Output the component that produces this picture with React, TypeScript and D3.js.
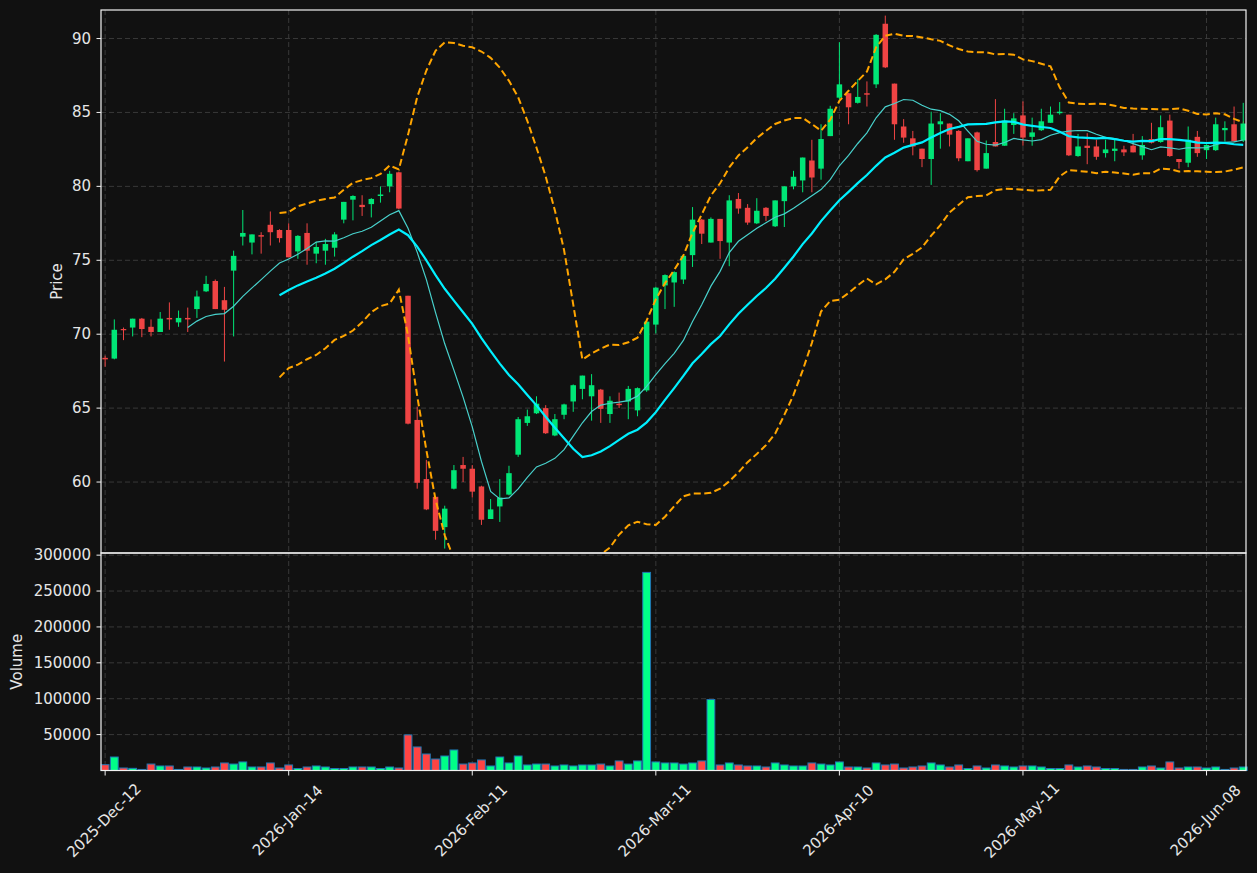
import { useEffect, useRef } from "react";
import * as d3 from "d3";

// daily OHLC
const opens = [
  68.4, 68.35, 70.35, 70.45, 71.05, 70.5, 70.15, 71.1, 70.8, 71.1,
  71.7, 72.9, 73.6, 72.3, 74.3, 76.6, 76.2, 76.7, 77.4, 77.05,
  77.05, 75.6, 76.85, 75.45, 75.65, 75.85, 77.75, 79.1, 78.75, 78.8,
  79.35, 80.0, 80.95, 72.6, 64.2, 60.2, 59.0, 56.95, 59.55, 61.15,
  60.9, 59.7, 57.5, 58.35, 59.15, 61.85, 64.0, 64.65, 65.0, 63.15,
  64.55, 65.45, 66.3, 65.8, 66.25, 64.6, 65.3, 65.45, 64.85, 66.2,
  70.65, 73.3, 73.5, 73.7, 75.35, 77.75, 76.2, 77.8, 76.2, 79.15,
  78.55, 77.5, 78.55, 77.3, 79.0, 80.0, 80.4, 81.75, 81.2, 83.4,
  86.0, 86.3, 85.65, 86.3, 86.9, 91.0, 86.95, 84.05, 83.25, 82.55,
  81.85, 84.2, 84.25, 83.75, 81.7, 83.65, 81.2, 83.0, 82.75, 84.15,
  84.8, 83.35, 83.8, 84.3, 84.95, 84.85, 82.05, 82.75, 82.7, 82.25,
  82.4, 82.5, 82.75, 82.1, 83.2, 83.0, 84.45, 81.85, 81.6, 83.35,
  82.45, 82.45, 83.8, 84.2, 83.1,
];
const highs = [
  68.55, 71.0, 70.45, 71.05, 71.1, 71.0, 71.5, 72.15, 71.6, 71.8,
  72.95, 73.95, 73.7, 73.2, 75.65, 78.4, 76.75, 76.9, 78.3, 77.1,
  77.5, 76.7, 77.5, 76.25, 76.45, 76.9, 78.95, 79.4, 79.4, 79.2,
  80.0, 81.05, 81.0, 72.6, 65.1, 61.5, 59.0, 58.4, 61.15, 61.7,
  61.15, 59.75, 58.85, 60.2, 61.1, 64.4, 64.9, 65.8, 65.2, 64.6,
  65.3, 66.6, 67.2, 67.3, 66.3, 65.8, 66.05, 66.5, 66.4, 70.9,
  73.2, 74.05, 74.25, 75.35, 78.6, 77.8, 77.9, 77.8, 79.4, 79.55,
  78.8, 79.2, 78.6, 79.05, 80.0, 81.05, 81.95, 83.15, 84.2, 85.45,
  89.75, 86.3, 87.25, 87.1, 90.3, 91.55, 86.95, 84.55, 83.75, 82.55,
  85.05, 84.95, 84.25, 83.8, 83.25, 83.7, 83.1, 85.9, 85.25, 84.95,
  85.75, 84.65, 85.25, 85.4, 85.7, 84.85, 83.55, 83.6, 83.15, 83.15,
  83.15, 82.75, 83.55, 83.4, 84.3, 84.8, 84.85, 81.85, 84.05, 83.75,
  82.85, 84.65, 84.4, 85.4, 85.65,
];
const lows = [
  67.8, 68.3, 69.6, 69.85, 69.8, 69.85, 70.15, 70.3, 70.5, 70.15,
  71.1, 72.85, 71.7, 68.15, 69.85, 76.0, 75.4, 75.45, 76.0, 76.2,
  75.2, 75.1, 74.7, 74.8, 74.7, 75.25, 77.5, 77.7, 78.0, 77.9,
  78.9, 79.6, 78.45, 63.9, 59.55, 58.1, 56.1, 55.5, 59.5, 60.0,
  58.95, 57.1, 57.5, 57.3, 59.1, 61.7, 63.8, 64.6, 63.25, 63.1,
  64.25, 64.75, 65.6, 64.15, 64.0, 64.0, 65.0, 64.25, 64.45, 66.1,
  70.05, 71.7, 71.85, 73.4, 74.55, 76.1, 76.2, 75.1, 74.6, 78.15,
  77.4, 77.45, 77.65, 77.25, 77.25, 79.8, 79.6, 79.6, 80.45, 83.4,
  85.9, 84.2, 85.6, 85.4, 86.65, 88.0, 83.15, 82.95, 82.1, 81.3,
  80.1, 82.55, 82.7, 81.7, 81.7, 81.0, 81.2, 82.7, 82.75, 83.55,
  82.75, 82.75, 83.75, 84.3, 84.85, 82.05, 82.0, 81.5, 81.8, 81.95,
  81.7, 82.05, 82.3, 81.8, 82.9, 82.95, 82.0, 81.2, 81.3, 82.0,
  81.85, 82.4, 83.05, 83.0, 83.0,
];
const closes = [
  68.3, 70.3, 70.3, 71.05, 70.35, 70.15, 71.05, 71.0, 71.1, 71.0,
  72.55, 73.4, 71.7, 71.65, 75.3, 76.85, 76.75, 76.6, 76.9, 76.5,
  75.2, 76.65, 75.65, 75.9, 76.1, 76.75, 78.95, 79.35, 78.6, 79.15,
  79.45, 80.85, 78.5, 63.95, 59.95, 58.15, 56.7, 58.2, 60.8, 60.9,
  59.35, 57.45, 58.15, 58.95, 60.6, 64.25, 64.45, 65.3, 63.3, 64.25,
  65.25, 66.55, 67.2, 66.55, 64.95, 65.5, 65.2, 66.3, 66.35, 70.85,
  73.15, 74.0, 74.2, 75.3, 77.75, 76.8, 77.8, 76.3, 79.05, 78.5,
  77.55, 78.35, 78.0, 79.05, 80.0, 80.65, 81.95, 80.6, 83.2, 85.25,
  86.9, 85.35, 86.05, 86.2, 90.25, 88.05, 84.2, 83.3, 82.7, 81.85,
  84.25, 84.4, 83.5, 81.9, 83.25, 81.1, 82.25, 82.7, 84.45, 84.6,
  83.3, 83.65, 84.4, 84.85, 85.05, 82.1, 82.7, 82.6, 82.0, 82.5,
  82.55, 82.3, 82.3, 82.8, 82.95, 84.0, 82.05, 81.65, 83.15, 82.25,
  82.8, 84.2, 83.95, 83.05, 84.25,
];
const volumes = [
  8100, 18800, 3500, 3000, 1500, 9000, 6300, 6300, 1500, 4900,
  4900, 3500, 4900, 10500, 9000, 11900, 4900, 4900, 10500, 3500,
  7700, 2800, 4900, 6300, 4900, 2800, 2800, 4900, 4900, 4900,
  2800, 4900, 3500, 49600, 32800, 23000, 16000, 20200, 28600, 9000,
  10500, 14700, 6300, 18800, 10500, 20200, 7700, 9000, 9000, 6300,
  7700, 6300, 7700, 7700, 9000, 6300, 13300, 9000, 13300, 276000,
  11900, 10500, 10500, 9000, 10500, 13300, 98900, 7700, 10500, 7700,
  6300, 6300, 4900, 10500, 7700, 6300, 6300, 10500, 9000, 7700,
  11900, 4900, 4900, 3500, 10500, 7700, 9000, 3500, 4900, 6300,
  10500, 7700, 4900, 7700, 2800, 6300, 3500, 7700, 6300, 4900,
  6300, 6300, 4900, 2800, 2800, 7700, 4900, 6300, 4900, 2800,
  2800, 1500, 1500, 4900, 6300, 3500, 11900, 3500, 4900, 4900,
  3500, 4900, 1500, 3500, 4900,
];

const tickIdx = [0, 20, 40, 60, 80, 100, 120];
const tickLabels = ["2025-Dec-12", "2026-Jan-14", "2026-Feb-11", "2026-Mar-11", "2026-Apr-10", "2026-May-11", "2026-Jun-08"];
const priceTicks = [60, 65, 70, 75, 80, 85, 90];
const volumeTicks = [50000, 100000, 150000, 200000, 250000, 300000];

const BG = "#111111";
const UP = "#00e676";
const DOWN = "#ef4444";
const VOL_UP = "#00ff88";
const VOL_DOWN = "#ff4444";
const TEXT = "#e6e6e6";

function rolling(vals: number[], w: number, fn: (a: number[]) => number): (number | null)[] {
  return vals.map((_, i) => (i < w - 1 ? null : fn(vals.slice(i - w + 1, i + 1))));
}

function App() {
  const ref = useRef<SVGSVGElement>(null);

  useEffect(() => {
    document.body.style.margin = "0";
    document.body.style.background = BG;
    draw();
    // eslint-disable-next-line
  }, []);

  function draw() {
    const width = 1257;
    const height = 873;
    const left = 101, right = 1246;
    const pTop = 10, pBottom = 553;
    const vTop = 553, vBottom = 770.5;

    const svg = d3.select(ref.current);
    svg.selectAll("*").remove();
    svg.attr("width", width).attr("height", height).style("background", BG);
    svg.append("rect").attr("width", width).attr("height", height).attr("fill", BG);

    const n = closes.length;
    const x = d3.scaleLinear().domain([-0.45, 124.3]).range([left, right]);
    const y = d3.scaleLinear().domain([55.2, 91.93]).range([pBottom, pTop]);
    const yv = d3.scaleLinear().domain([0, 303000]).range([vBottom, vTop]);
    const step = x(1) - x(0);

    const defs = svg.append("defs");
    defs.append("clipPath").attr("id", "clip-price")
      .append("rect").attr("x", left).attr("y", pTop).attr("width", right - left).attr("height", pBottom - pTop);

    // grid
    const grid = svg.append("g").attr("stroke", "#3d3d3d").attr("stroke-width", 0.9).attr("stroke-dasharray", "5,3");
    priceTicks.forEach(t => {
      grid.append("line").attr("x1", left).attr("x2", right).attr("y1", y(t)).attr("y2", y(t));
    });
    volumeTicks.forEach(t => {
      grid.append("line").attr("x1", left).attr("x2", right).attr("y1", yv(t)).attr("y2", yv(t));
    });
    tickIdx.forEach(i => {
      grid.append("line").attr("x1", x(i)).attr("x2", x(i)).attr("y1", pTop).attr("y2", pBottom);
      grid.append("line").attr("x1", x(i)).attr("x2", x(i)).attr("y1", vTop).attr("y2", vBottom);
    });

    const idx = d3.range(n);
    const isUp = (i: number) => closes[i] >= opens[i];

    // candles
    const bodyW = step * 0.6;
    const candles = svg.append("g").attr("clip-path", "url(#clip-price)");
    const cg = candles.selectAll("g").data(idx).enter().append("g");
    cg.append("line")
      .attr("x1", d => x(d)).attr("x2", d => x(d))
      .attr("y1", d => y(highs[d])).attr("y2", d => y(lows[d]))
      .attr("stroke", d => (isUp(d) ? UP : DOWN))
      .attr("stroke-width", 1);
    cg.append("rect")
      .attr("x", d => x(d) - bodyW / 2)
      .attr("width", bodyW)
      .attr("y", d => y(Math.max(opens[d], closes[d])))
      .attr("height", d => Math.max(1.2, Math.abs(y(opens[d]) - y(closes[d]))))
      .attr("fill", d => (isUp(d) ? UP : DOWN));

    // indicators
    const ma10 = rolling(closes, 10, a => d3.mean(a) as number);
    const ma20 = rolling(closes, 20, a => d3.mean(a) as number);
    const sd20 = rolling(closes, 20, a => d3.deviation(a) as number);
    const upper = ma20.map((m, i) => (m == null ? null : m + 2 * (sd20[i] as number)));
    const lower = ma20.map((m, i) => (m == null ? null : m - 2 * (sd20[i] as number)));

    const line = d3.line<number | null>()
      .defined(d => d != null)
      .x((_, i) => x(i))
      .y(d => y(d as number));

    const lines = svg.append("g").attr("clip-path", "url(#clip-price)").attr("fill", "none");
    lines.append("path").attr("d", line(upper)).attr("stroke", "#ffa500").attr("stroke-width", 2).attr("stroke-dasharray", "7,3.5");
    lines.append("path").attr("d", line(lower)).attr("stroke", "#ffa500").attr("stroke-width", 2).attr("stroke-dasharray", "7,3.5");
    lines.append("path").attr("d", line(ma10)).attr("stroke", "#48d1cc").attr("stroke-width", 1.2);
    lines.append("path").attr("d", line(ma20)).attr("stroke", "#00f0ff").attr("stroke-width", 2.2);

    // volume bars
    const barW = step * 0.85;
    svg.append("g").selectAll("rect").data(idx).enter().append("rect")
      .attr("x", d => x(d) - barW / 2)
      .attr("width", barW)
      .attr("y", d => yv(volumes[d]))
      .attr("height", d => vBottom - yv(volumes[d]))
      .attr("fill", d => (isUp(d) ? VOL_UP : VOL_DOWN))
      .attr("stroke", "#1f77b4")
      .attr("stroke-width", 1);

    // frames
    const frame = svg.append("g").attr("fill", "none").attr("stroke", "#f2f2f2").attr("stroke-width", 1.2);
    frame.append("rect").attr("x", left).attr("y", pTop).attr("width", right - left).attr("height", pBottom - pTop);
    frame.append("rect").attr("x", left).attr("y", vTop).attr("width", right - left).attr("height", vBottom - vTop);

    // axes
    const axisFont = "DejaVu Sans, sans-serif";
    const ax = svg.append("g").attr("font-family", axisFont).attr("font-size", 15).attr("fill", TEXT);
    priceTicks.forEach(t => {
      ax.append("line").attr("x1", left - 4.5).attr("x2", left).attr("y1", y(t)).attr("y2", y(t)).attr("stroke", "#f2f2f2");
      ax.append("text").attr("x", left - 10).attr("y", y(t)).attr("text-anchor", "end").attr("dominant-baseline", "central").text(t);
    });
    volumeTicks.forEach(t => {
      ax.append("line").attr("x1", left - 4.5).attr("x2", left).attr("y1", yv(t)).attr("y2", yv(t)).attr("stroke", "#f2f2f2");
      ax.append("text").attr("x", left - 10).attr("y", yv(t)).attr("text-anchor", "end").attr("dominant-baseline", "central").text(t);
    });
    tickIdx.forEach((i, k) => {
      ax.append("line").attr("x1", x(i)).attr("x2", x(i)).attr("y1", vBottom).attr("y2", vBottom + 5).attr("stroke", "#f2f2f2");
      ax.append("text")
        .attr("transform", `translate(${x(i) - 1},${vBottom + 50}) rotate(-45)`)
        .attr("text-anchor", "middle")
        .attr("dominant-baseline", "central")
        .text(tickLabels[k]);
    });

    ax.append("text")
      .attr("transform", `translate(57,${(pTop + pBottom) / 2}) rotate(-90)`)
      .attr("text-anchor", "middle").attr("dominant-baseline", "central")
      .text("Price");
    ax.append("text")
      .attr("transform", `translate(17,${(vTop + vBottom) / 2}) rotate(-90)`)
      .attr("text-anchor", "middle").attr("dominant-baseline", "central")
      .text("Volume");
  }

  return (
    <div style={{ width: 1257, height: 873, background: BG }}>
      <svg ref={ref} style={{ display: "block" }}></svg>
    </div>
  );
}

export default App;
